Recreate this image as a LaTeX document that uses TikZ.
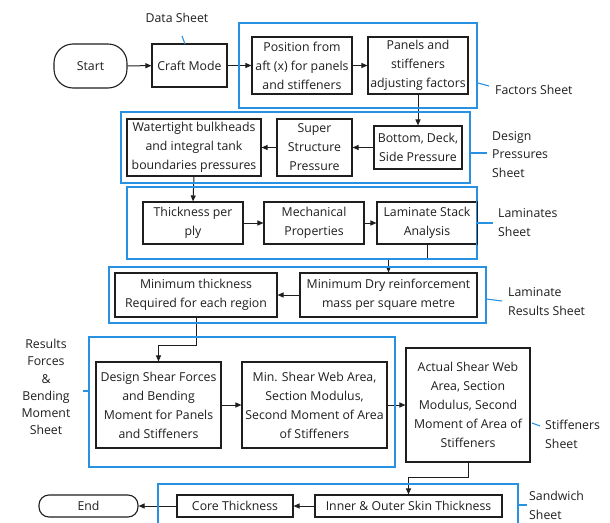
\documentclass[tikz,border=0pt]{standalone}
\usepackage{fontspec}
\setmainfont{Open Sans}
\usetikzlibrary{arrows.meta}
\definecolor{frameblue}{RGB}{40,145,225}
\definecolor{inkgray}{RGB}{30,30,30}
\begin{document}
\begin{tikzpicture}[x=1pt,y=-1pt,
  stepbox/.style={draw=inkgray, line width=1.1pt, fill=white, inner sep=0pt, align=center,
    text=inkgray, font=\fontsize{12.3}{19}\selectfont},
  terminal/.style={stepbox, rounded corners=#1},
  sheet/.style={draw=frameblue, line width=1.15pt},
  leader/.style={draw=frameblue, line width=1.1pt},
  sheetlabel/.style={inner sep=0pt, align=left, text=inkgray, font=\fontsize{12.3}{18.5}\selectfont},
  flow/.style={draw=inkgray, line width=1pt, -{Triangle[length=6pt,width=5pt]}}]
\useasboundingbox (0,0) rectangle (610,522);

% ---- process boxes ----
\node[terminal=19pt, minimum width=73pt, minimum height=44pt] (start) at (90.5,66) {Start};
\node[stepbox, minimum width=75pt, minimum height=43pt] (craft) at (189.5,65.5) {Craft Mode};
\node[stepbox, minimum width=100pt, minimum height=57pt] (pos) at (302,65.5) {Position from\\aft (x) for panels\\and stiffeners};
\node[stepbox, minimum width=100pt, minimum height=57pt] (adj) at (418,65.5) {Panels and\\stiffeners\\adjusting factors};

\node[stepbox, minimum width=134pt, minimum height=57pt] (water) at (194,147.5) {Watertight bulkheads\\and integral tank\\boundaries pressures};
\node[stepbox, minimum width=75pt, minimum height=57pt] (super) at (314.5,147.5) {Super\\Structure\\Pressure};
\node[stepbox, minimum width=88pt, minimum height=43pt] (bottom) at (418,147.5) {Bottom, Deck,\\Side Pressure};

\node[stepbox, minimum width=100pt, minimum height=42pt] (thick) at (193,223) {Thickness per\\ply};
\node[stepbox, minimum width=100pt, minimum height=42pt] (mech) at (314,223) {Mechanical\\Properties};
\node[stepbox, minimum width=100pt, minimum height=42pt] (lam) at (427,223) {Laminate Stack\\Analysis};

\node[stepbox, minimum width=162pt, minimum height=44pt] (minthick) at (196,295) {Minimum thickness\\Required for each region};
\node[stepbox, minimum width=177pt, minimum height=44pt] (mindry) at (388.5,295) {Minimum Dry reinforcement\\mass per square metre};

\node[stepbox, minimum width=125pt, minimum height=86pt] (design) at (158.5,405) {Design Shear Forces\\and Bending\\Moment for Panels\\and Stiffeners};
\node[stepbox, minimum width=145pt, minimum height=86pt] (minshear) at (314.5,405) {Min. Shear Web Area,\\Section Modulus,\\Second Moment of Area\\of Stiffeners};
\node[stepbox, minimum width=124pt, minimum height=114pt] (actual) at (468,405) {Actual Shear Web\\Area, Section\\Modulus, Second\\Moment of Area of\\Stiffeners};

\node[stepbox, minimum width=187pt, minimum height=22pt] (inner) at (408.5,506) {Inner \& Outer Skin Thickness};
\node[stepbox, minimum width=116pt, minimum height=22pt] (core) at (235,506) {Core Thickness};
\node[terminal=10pt, minimum width=99pt, minimum height=22pt] (end) at (88.5,506) {End};

% ---- connectors (drawn beneath the sheet frames) ----
\draw[flow] (start) -- (craft);
\draw[flow] (craft.east) -- (pos.west |- craft.east);
\draw[flow] (pos) -- (adj);
\draw[flow] (adj) -- (bottom);
\draw[flow] (bottom) -- (super);
\draw[flow] (super) -- (water);
\draw[flow] (water.south) -- (thick.north);
\draw[flow] (thick) -- (mech);
\draw[flow] (mech) -- (lam);
\coordinate (lamturn) at (427,259);
\draw[flow] (lam.south) -- (lamturn) -| (mindry.north);
\draw[flow] (mindry) -- (minthick);
\coordinate (thickturn) at (196,345);
\draw[flow] (minthick.south) -- (thickturn) -| (design.north);
\draw[flow] (design) -- (minshear);
\draw[flow] (minshear) -- (actual);
\coordinate (actualturn) at (468,477);
\draw[flow] (actual.south) -- (actualturn) -| (inner.north);
\draw[flow] (inner) -- (core);
\draw[flow] (core) -- (end);

% ---- sheet frames ----
\draw[sheet] (239,23) rectangle (477,108);
\draw[sheet] (121,112) rectangle (470,183);
\draw[sheet] (127,187) rectangle (477,259);
\draw[sheet] (109,267) rectangle (486,323);
\draw[sheet] (89,337) rectangle (395,467);
\draw[sheet] (158,484) rectangle (518,540);

% the stack box shares its right edge with the laminates frame
\draw[draw=inkgray, line width=1.1pt] (lam.north east) -- (lam.south east);

% ---- sheet labels and leaders ----
\node[sheetlabel, align=center] (ldata) at (177,18) {Data Sheet};
\draw[leader] (182,36) -- (185,44);

\node[sheetlabel, anchor=west] (lfactors) at (495,90) {Factors Sheet};
\draw[leader] (478,83) -- (489,86);

\node[sheetlabel, anchor=west] (lpress) at (492,154.5) {Design\\Pressures\\Sheet};
\draw[leader] (470,153) -- (487,153);

\node[sheetlabel, anchor=west] (llam) at (498,222.5) {Laminates\\Sheet};
\draw[leader] (477,223) -- (493,223);

\node[sheetlabel, anchor=west] (lres) at (508,301.5) {Laminate\\Results Sheet};
\draw[leader] (486,299) -- (502,301);

\node[sheetlabel, align=center, font=\fontsize{12.3}{17.2}\selectfont] (lforces) at (46,387) {Results\\Forces\\\&\\Bending\\Moment\\Sheet};
\draw[leader] (83,391) -- (89,391);

\node[sheetlabel, anchor=west] (lstiff) at (545,434.5) {Stiffeners\\Sheet};
\draw[leader] (532,423) -- (540,426);

\node[sheetlabel, anchor=west] (lsand) at (529,505.5) {Sandwich\\Sheet};
\draw[leader] (518,505) -- (527,505);
\end{tikzpicture}
\end{document}
